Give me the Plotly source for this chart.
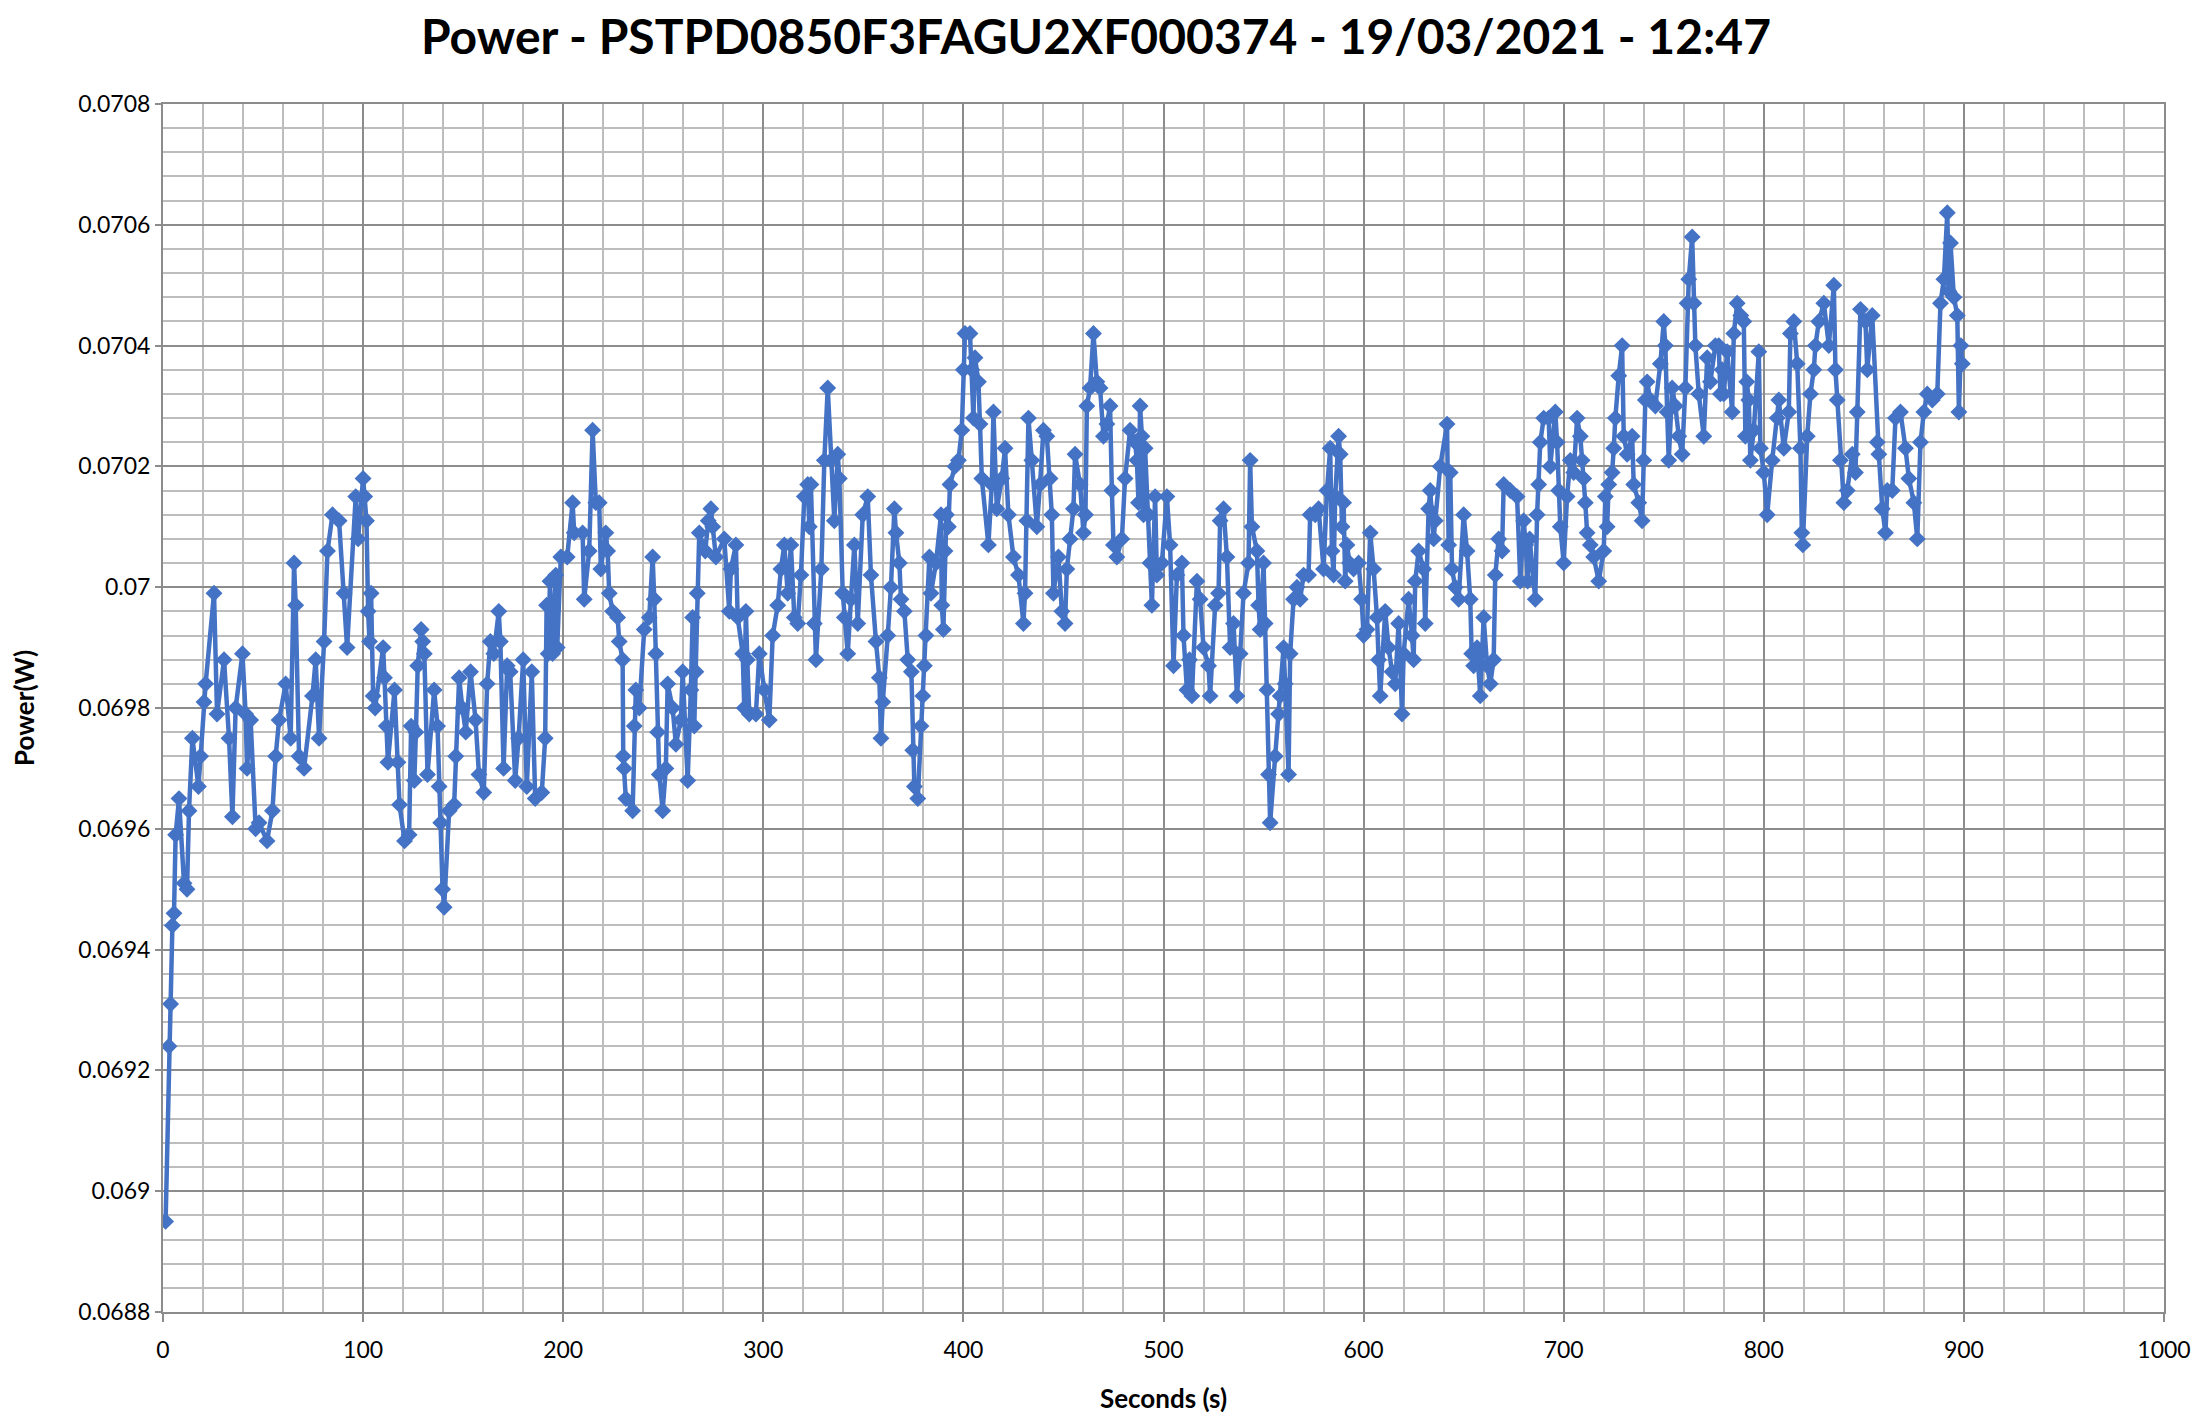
import plotly.graph_objects as go

# ---- data ----
seconds = [
    1.3, 3.0, 3.8, 4.7, 5.5, 6.3, 8.0, 10.5, 12.0, 13.0, 14.7, 17.7, 18.8, 20.5, 21.3, 25.5, 27.0, 30.5, 33.0, 34.7,
    36.3, 39.7, 41.3, 42.0, 43.8, 46.3, 48.0, 52.0, 54.7, 56.3, 58.0, 61.3, 63.8, 65.5, 66.3, 68.0, 70.5, 74.7, 76.3, 78.0,
    80.5, 82.2, 84.7, 88.0, 90.5, 92.0, 96.3,
    97.5, 100.0, 100.8, 101.7, 102.5, 103.2, 104.0, 105.0, 106.0, 110.0, 110.7, 111.6, 112.4, 115.7, 117.4, 118.2, 120.7, 123.0, 124.0, 125.6,
    126.4, 127.3, 129.0, 129.8, 130.6, 132.2, 135.5, 137.2, 138.0, 138.8, 139.7, 140.5, 143.0, 145.5, 146.3, 148.0, 149.6, 151.3, 153.7, 156.2,
    157.9, 160.3, 162.0, 163.6, 165.3, 167.8, 168.6, 170.2, 172.0, 173.5, 176.0, 177.7, 180.0, 181.8, 184.3, 186.0, 189.3, 191.0, 191.7, 192.5, 193.4,
    194.7, 196.3, 197.0, 198.8, 202.0, 204.7, 205.5, 209.7, 210.5, 213.0, 214.7, 216.3, 218.0, 218.8, 221.3, 222.2, 223.0, 224.7, 227.2, 228.0,
    229.7, 230.0, 230.5, 231.3, 234.7, 235.5, 236.3, 238.0, 240.5, 243.0, 244.7, 245.5, 246.3, 247.2, 248.0, 249.7, 251.3, 252.2, 254.7, 256.3,
    258.8, 259.7, 262.2, 263.8, 264.7, 265.5, 266.3, 267.0, 268.0, 271.0, 272.5, 273.8, 274.7, 276.3, 280.5, 283.0, 283.8, 286.3, 287.2, 289.7, 290.5,
    291.3, 292.0, 293.0, 296.3, 298.0, 300.5, 303.0, 304.7, 307.2, 308.8, 310.5, 312.2, 313.8, 315.5, 317.2, 318.8, 320.5, 322.2, 323.0, 323.8,
    325.5, 326.3, 329.0, 330.5, 332.2, 333.8, 335.5, 337.2, 338.0, 339.7, 340.5, 342.2, 343.8, 345.5, 347.2, 349.7, 352.2, 353.8, 356.3, 358.0,
    358.8, 359.7, 362.2, 363.8, 365.5, 366.3, 368.0, 368.8, 370.5, 372.2, 374.0, 374.7, 375.5, 377.2, 378.8, 379.7, 380.5, 381.3, 383.0, 383.8,
    386.3, 388.8,
    389.2, 390.0, 390.8, 391.5, 392.5, 393.3, 395.8, 397.5, 399.2, 400.0, 400.8, 403.3, 404.2, 405.0, 405.8, 407.5, 408.3, 409.2, 412.5, 414.2,
    415.0, 416.7, 419.2, 420.8, 422.5, 425.0, 427.5, 430.0, 430.8, 431.7, 432.5, 434.2, 436.7, 438.3, 440.0, 441.7, 443.3, 444.2, 445.0, 447.5,
    449.2, 450.8, 451.7, 453.3, 455.0, 455.8, 458.3, 460.0, 461.0, 461.7, 463.3, 465.0, 466.7, 468.3, 470.0, 471.7, 473.3, 474.2, 475.0, 476.7,
    479.2, 480.8, 483.3, 485.8,
    486.7, 487.5, 488.3, 489.2, 490.0, 490.8, 492.5, 493.3, 494.2, 495.8, 496.7, 499.2, 501.7, 503.3, 505.0, 506.7, 509.2, 510.0, 511.7, 513.0,
    514.2, 516.7, 518.3, 520.0, 522.5, 523.3, 525.8, 527.5, 528.3, 530.0, 531.7, 533.3, 535.0, 536.7, 538.3, 540.0, 542.5, 543.3, 544.2, 546.7,
    547.5, 548.3, 550.0, 550.8, 551.7, 552.5, 553.3, 555.8, 557.5, 558.3, 560.0, 560.8, 562.5, 563.3, 565.0, 566.7, 568.3, 570.0, 572.5, 573.3,
    575.8, 577.5, 580.0, 581.7, 583.3,
    584.2, 585.0, 585.8, 587.5, 588.3, 589.2, 590.0, 590.8, 591.7, 593.0, 595.0, 597.5, 599.0, 600.0, 601.7, 603.3, 605.0, 606.7, 607.5, 608.3,
    610.8, 612.5, 614.2, 615.8, 617.5, 619.2, 620.0, 622.5, 624.2, 625.0, 625.8, 627.5, 630.0, 630.8, 632.5, 633.3, 635.0, 635.8, 638.3, 641.7,
    642.5, 643.3, 644.2, 645.8, 647.5, 650.0, 651.7, 653.3, 654.0, 655.0, 656.7, 658.3, 660.0, 661.7, 663.3, 665.0, 665.8, 667.5, 669.2, 670.0,
    673.3, 676.7, 678.3, 680.0, 681.0, 682.0, 683.0, 685.8,
    686.7, 687.5, 688.3, 690.0, 692.5, 693.3, 695.8, 696.7, 697.5, 698.3, 700.0, 701.7, 703.3, 705.0, 706.7, 708.3, 709.2, 710.0, 710.8, 711.7,
    713.3, 715.0, 717.5, 720.0, 720.8, 721.7, 722.5, 724.2, 725.0, 725.8, 727.5, 729.2, 730.0, 731.7, 734.2, 735.0, 737.5, 739.2, 740.0, 740.8,
    741.7, 743.3, 745.8, 748.3, 750.0, 750.8, 751.7, 752.5, 754.2, 755.8, 757.5, 759.2, 760.8, 761.7, 762.5, 764.2, 765.0, 765.8, 767.5, 770.0,
    771.7, 773.3, 775.8, 777.5, 778.3,
    779.2, 780.0, 781.7, 784.2, 785.0, 786.7, 788.5, 790.0, 790.8, 791.5, 792.5, 793.3, 795.0, 797.5, 798.3, 800.0, 801.7, 804.2, 806.7, 807.5,
    810.0, 812.5, 813.3, 815.0, 816.7, 818.3, 819.0, 819.5, 821.7, 823.3, 825.0, 825.8, 827.5, 830.0, 832.5, 835.0, 835.8, 836.7, 838.3, 840.0,
    841.7, 844.2, 845.8, 846.7, 848.3, 850.8, 851.7, 854.2, 856.7, 857.5, 859.2, 860.8, 861.7, 864.2, 865.8, 868.3, 870.8, 872.5, 875.0, 876.7,
    878.3, 880.0, 881.7, 884.2, 886.7, 888.3, 890.0, 891.7, 892.5, 893.3, 895.0, 896.7, 897.5, 898.5, 899.2,
]

power_w = [
    0.06895, 0.06924, 0.06931, 0.06944, 0.06946, 0.06959, 0.06965, 0.06951, 0.06950, 0.06963, 0.06975, 0.06967, 0.06972, 0.06981, 0.06984, 0.06999, 0.06979, 0.06988, 0.06975, 0.06962,
    0.06980, 0.06989, 0.06979, 0.06970, 0.06978, 0.06960, 0.06961, 0.06958, 0.06963, 0.06972, 0.06978, 0.06984, 0.06975, 0.07004, 0.06997, 0.06972, 0.06970, 0.06982, 0.06988, 0.06975,
    0.06991, 0.07006, 0.07012, 0.07011, 0.06999, 0.06990, 0.07015,
    0.07008, 0.07018, 0.07015, 0.07011, 0.06996, 0.06991, 0.06999, 0.06982, 0.06980, 0.06990, 0.06985, 0.06977, 0.06971, 0.06983, 0.06971, 0.06964, 0.06958, 0.06959, 0.06977, 0.06968,
    0.06976, 0.06987, 0.06993, 0.06991, 0.06989, 0.06969, 0.06983, 0.06977, 0.06967, 0.06961, 0.06950, 0.06947, 0.06963, 0.06964, 0.06972, 0.06985, 0.06980, 0.06976, 0.06986, 0.06978,
    0.06969, 0.06966, 0.06984, 0.06991, 0.06989, 0.06996, 0.06991, 0.06970, 0.06987, 0.06986, 0.06968, 0.06975, 0.06988, 0.06967, 0.06986, 0.06965, 0.06966, 0.06975, 0.06997, 0.06989, 0.07001,
    0.06989, 0.07002, 0.06990, 0.07005, 0.07005, 0.07014, 0.07009, 0.07009, 0.06998, 0.07006, 0.07026, 0.07014, 0.07014, 0.07003, 0.07009, 0.07006, 0.06999, 0.06996, 0.06995, 0.06991,
    0.06988, 0.06972, 0.06970, 0.06965, 0.06963, 0.06977, 0.06983, 0.06980, 0.06993, 0.06995, 0.07005, 0.06998, 0.06989, 0.06976, 0.06969, 0.06963, 0.06970, 0.06984, 0.06980, 0.06974,
    0.06978, 0.06986, 0.06968, 0.06983, 0.06995, 0.06977, 0.06986, 0.06999, 0.07009, 0.07006, 0.07011, 0.07013, 0.07010, 0.07005, 0.07008, 0.06996, 0.07003, 0.07007, 0.06995, 0.06989, 0.06980,
    0.06996, 0.06988, 0.06979, 0.06979, 0.06989, 0.06983, 0.06978, 0.06992, 0.06997, 0.07003, 0.07007, 0.06999, 0.07007, 0.06995, 0.06994, 0.07002, 0.07015, 0.07017, 0.07010, 0.07017,
    0.06994, 0.06988, 0.07003, 0.07021, 0.07033, 0.07021, 0.07011, 0.07022, 0.07018, 0.06999, 0.06995, 0.06989, 0.06998, 0.07007, 0.06994, 0.07012, 0.07015, 0.07002, 0.06991, 0.06985,
    0.06975, 0.06981, 0.06992, 0.07000, 0.07013, 0.07009, 0.07004, 0.06998, 0.06996, 0.06988, 0.06986, 0.06973, 0.06967, 0.06965, 0.06977, 0.06982, 0.06987, 0.06992, 0.07005, 0.06999,
    0.07004, 0.07012,
    0.06997, 0.06993, 0.07006, 0.07012, 0.07010, 0.07017, 0.07020, 0.07021, 0.07026, 0.07036, 0.07042, 0.07042, 0.07036, 0.07028, 0.07038, 0.07034, 0.07027, 0.07018, 0.07007, 0.07017,
    0.07029, 0.07013, 0.07018, 0.07023, 0.07012, 0.07005, 0.07002, 0.06994, 0.06999, 0.07011, 0.07028, 0.07021, 0.07010, 0.07017, 0.07026, 0.07025, 0.07018, 0.07012, 0.06999, 0.07005,
    0.06996, 0.06994, 0.07003, 0.07008, 0.07013, 0.07022, 0.07017, 0.07009, 0.07012, 0.07030, 0.07033, 0.07042, 0.07034, 0.07033, 0.07025, 0.07027, 0.07030, 0.07016, 0.07007, 0.07005,
    0.07008, 0.07018, 0.07026, 0.07024,
    0.07021, 0.07014, 0.07030, 0.07025, 0.07012, 0.07023, 0.07012, 0.07004, 0.06997, 0.07015, 0.07002, 0.07004, 0.07015, 0.07007, 0.06987, 0.07002, 0.07004, 0.06992, 0.06983, 0.06988,
    0.06982, 0.07001, 0.06998, 0.06990, 0.06987, 0.06982, 0.06997, 0.06999, 0.07011, 0.07013, 0.07005, 0.06990, 0.06994, 0.06982, 0.06989, 0.06999, 0.07004, 0.07021, 0.07010, 0.07006,
    0.06997, 0.06993, 0.07004, 0.06994, 0.06983, 0.06969, 0.06961, 0.06972, 0.06979, 0.06982, 0.06990, 0.06984, 0.06969, 0.06989, 0.06998, 0.07000, 0.06998, 0.07002, 0.07002, 0.07012,
    0.07012, 0.07013, 0.07003, 0.07016, 0.07023,
    0.07006, 0.07002, 0.07015, 0.07025, 0.07022, 0.07010, 0.07014, 0.07001, 0.07007, 0.07004, 0.07003, 0.07004, 0.06998, 0.06992, 0.06993, 0.07009, 0.07003, 0.06995, 0.06988, 0.06982,
    0.06996, 0.06990, 0.06986, 0.06984, 0.06994, 0.06979, 0.06989, 0.06998, 0.06992, 0.06988, 0.07001, 0.07006, 0.07003, 0.06994, 0.07013, 0.07016, 0.07008, 0.07011, 0.07020, 0.07027,
    0.07007, 0.07019, 0.07003, 0.07000, 0.06998, 0.07012, 0.07006, 0.06998, 0.06989, 0.06987, 0.06990, 0.06982, 0.06995, 0.06987, 0.06984, 0.06988, 0.07002, 0.07008, 0.07006, 0.07017,
    0.07016, 0.07015, 0.07001, 0.07011, 0.07007, 0.07001, 0.07008, 0.06998,
    0.07012, 0.07017, 0.07024, 0.07028, 0.07028, 0.07020, 0.07029, 0.07024, 0.07016, 0.07010, 0.07004, 0.07015, 0.07021, 0.07019, 0.07028, 0.07025, 0.07021, 0.07018, 0.07014, 0.07009,
    0.07007, 0.07005, 0.07001, 0.07006, 0.07015, 0.07010, 0.07017, 0.07019, 0.07023, 0.07028, 0.07035, 0.07040, 0.07025, 0.07022, 0.07025, 0.07017, 0.07014, 0.07011, 0.07021, 0.07031,
    0.07034, 0.07031, 0.07030, 0.07037, 0.07044, 0.07040, 0.07029, 0.07021, 0.07033, 0.07030, 0.07025, 0.07022, 0.07033, 0.07047, 0.07051, 0.07058, 0.07047, 0.07040, 0.07032, 0.07025,
    0.07038, 0.07034, 0.07040, 0.07040, 0.07032,
    0.07036, 0.07032, 0.07039, 0.07029, 0.07042, 0.07047, 0.07045, 0.07044, 0.07025, 0.07034, 0.07031, 0.07021, 0.07026, 0.07039, 0.07023, 0.07019, 0.07012, 0.07021, 0.07028, 0.07031,
    0.07023, 0.07029, 0.07042, 0.07044, 0.07037, 0.07023, 0.07009, 0.07007, 0.07025, 0.07032, 0.07036, 0.07040, 0.07044, 0.07047, 0.07040, 0.07050, 0.07036, 0.07031, 0.07021, 0.07014,
    0.07016, 0.07022, 0.07019, 0.07029, 0.07046, 0.07044, 0.07036, 0.07045, 0.07024, 0.07022, 0.07013, 0.07009, 0.07016, 0.07016, 0.07028, 0.07029, 0.07023, 0.07018, 0.07014, 0.07008,
    0.07024, 0.07029, 0.07032, 0.07031, 0.07032, 0.07047, 0.07051, 0.07062, 0.07049, 0.07057, 0.07048, 0.07045, 0.07029, 0.07040, 0.07037,
]

x_ticks = [0, 100, 200, 300, 400, 500, 600, 700, 800, 900, 1000]
x_tick_labels = ["0", "100", "200", "300", "400", "500", "600", "700", "800", "900", "1000"]
y_ticks = [0.0688, 0.0690, 0.0692, 0.0694, 0.0696, 0.0698, 0.0700, 0.0702, 0.0704, 0.0706, 0.0708]
y_tick_labels = ["0.0688", "0.069", "0.0692", "0.0694", "0.0696", "0.0698", "0.07", "0.0702", "0.0704", "0.0706", "0.0708"]

title_text = "Power - PSTPD0850F3FAGU2XF000374 - 19/03/2021 - 12:47"
x_title = "Seconds (s)"
y_title = "Power(W)"

# ---- styles ----
LINE_BLUE = "#4472C4"
MAJOR_GRID = "#8C8C8C"
MINOR_GRID = "#BDBDBD"
FONT = "Lato"

# The page puts the figure 8 px in from the top-left corner of the window.
FIG_W, FIG_H = 2195, 1412

fig = go.Figure(
    go.Scatter(
        x=seconds,
        y=power_w,
        mode="lines+markers",
        line=dict(color=LINE_BLUE, width=4.5),
        marker=dict(symbol="diamond", size=13, color=LINE_BLUE),
        showlegend=False,
    )
)

fig.update_layout(
    width=FIG_W,
    height=FIG_H,
    paper_bgcolor="white",
    plot_bgcolor="white",
    margin=dict(l=155, r=39, t=96, b=108, autoexpand=False),
    title=dict(
        text=title_text,
        x=0.4957,
        xanchor="center",
        y=1 - 29 / FIG_H,
        yanchor="middle",
        yref="container",
        font=dict(family=FONT, size=48, color="black", weight="bold"),
    ),
    font=dict(family=FONT, color="black"),
)

fig.update_xaxes(
    automargin=False,
    range=[0, 1000],
    tickmode="array",
    tickvals=x_ticks,
    ticktext=x_tick_labels,
    tickfont=dict(family=FONT, size=23, color="black"),
    ticks="outside",
    ticklen=8,
    tickwidth=2,
    tickcolor=MAJOR_GRID,
    ticklabelstandoff=8,
    showgrid=True,
    gridcolor=MAJOR_GRID,
    gridwidth=2,
    minor=dict(tickmode="linear", tick0=0, dtick=20, showgrid=True, gridcolor=MINOR_GRID, gridwidth=1.5),
    showline=True,
    linecolor=MAJOR_GRID,
    linewidth=2,
    mirror=True,
    zeroline=False,
    title=dict(text=x_title, font=dict(family=FONT, size=26, color="black", weight="bold"), standoff=28),
)

fig.update_yaxes(
    automargin=False,
    range=[0.0688, 0.0708],
    tickmode="array",
    tickvals=y_ticks,
    ticktext=y_tick_labels,
    tickfont=dict(family=FONT, size=23, color="black"),
    ticks="outside",
    ticklen=6,
    tickwidth=2,
    tickcolor=MAJOR_GRID,
    ticklabelstandoff=0,
    showgrid=True,
    gridcolor=MAJOR_GRID,
    gridwidth=2,
    minor=dict(tickmode="linear", tick0=0.0688, dtick=0.00004, showgrid=True, gridcolor=MINOR_GRID, gridwidth=1.5),
    showline=True,
    linecolor=MAJOR_GRID,
    linewidth=2,
    mirror=True,
    zeroline=False,
    title=dict(text=y_title, font=dict(family=FONT, size=26, color="black", weight="bold"), standoff=46),
)

assert len(seconds) == len(power_w)
fig.write_html("out.html")
